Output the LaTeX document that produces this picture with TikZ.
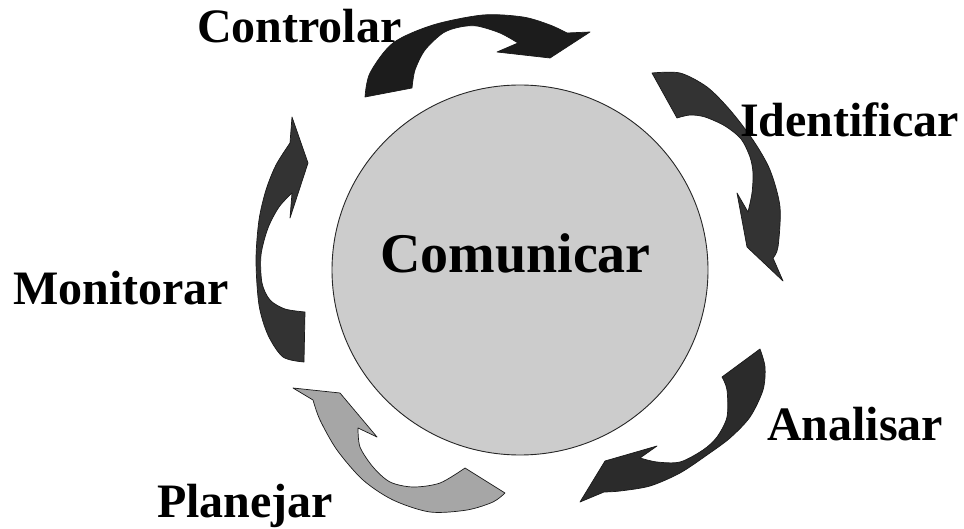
\documentclass[tikz,border=0pt]{standalone}
\usepackage{fontspec}
\setmainfont{Liberation Serif}
\begin{document}
\begin{tikzpicture}[x=1pt,y=-1pt,
  label/.style={inner sep=0pt,anchor=base west,font=\fontsize{48}{50}\selectfont\bfseries},
  bigarrow/.style={fill=#1,draw=black!90,line width=0.7pt,line join=round},
  bigarrow/.default={black!80},
  hub/.style={circle,draw=black!85,line width=0.9pt,fill=black!20}]
\useasboundingbox (0,0) rectangle (964,529);

% central circle
\fill[black!20,draw=black!85,line width=0.9pt] (520,270) ellipse [x radius=188,y radius=185];
\node[inner sep=0pt,anchor=base west,font=\fontsize{56}{60}\selectfont\bfseries] (hub) at (380,273) {Comunicar};

% Controlar arrow (top)
\filldraw[bigarrow=black!89] (365,97)
  -- plot[smooth] coordinates {(365,97) (370,73) (393,43) (433,25) (483,15) (523,17) (550,25) (567,33)}
  -- (590,32) -- (550,58) -- (497,52) -- (518,43)
  -- plot[smooth] coordinates {(518,43) (500,33) (477,26) (460,27) (443,33) (425,50) (415,70) (412,88)}
  -- cycle;

% Identificar arrow (right, top)
\filldraw[bigarrow=black!80] (652,73)
  -- plot[smooth] coordinates {(652,73) (680,73) (707,87) (730,110) (753,140) (770,170) (780,207) (778,247) (773,258)}
  -- (783,281) -- (747,247) -- (737,193) -- (748,212)
  -- plot[smooth] coordinates {(748,212) (752,193) (753,173) (750,157) (741,139) (725,126) (705,117) (690,115) (677,118)}
  -- cycle;

% Analisar arrow (right, bottom)
\filldraw[bigarrow=black!83] (760,349)
  -- plot[smooth] coordinates {(760,349) (765,367) (763,390) (750,417) (730,438) (707,455) (680,473) (650,486) (620,491) (604,492)}
  -- (580,502) -- (605,461) -- (657,446) -- (640,458)
  -- plot[smooth] coordinates {(640,458) (657,462) (680,462) (703,450) (717,437) (727,417) (727,390) (722,377)}
  -- cycle;

% Planejar arrow (bottom left, light)
\filldraw[bigarrow=black!35] (505,493)
  -- plot[smooth] coordinates {(505,493) (493,502) (467,510) (430,512) (393,500) (363,480) (337,450) (320,420) (313,400)}
  -- (293,388) -- (340,393) -- (377,437) -- (358,428)
  -- plot[smooth] coordinates {(358,428) (360,447) (373,467) (390,482) (413,487) (440,483) (465,468)}
  -- cycle;

% Monitorar arrow (left)
\filldraw[bigarrow=black!80] (304,362)
  -- plot[smooth] coordinates {(304,362) (283,357) (268,335) (259,305) (256,260) (259,220) (266,190) (276,165) (290,143)}
  -- (292,117) -- (308,163) -- (290,218) -- (292,193)
  -- plot[smooth] coordinates {(292,193) (279,207) (268,228) (261,255) (262,283) (270,300) (285,309) (305,312)}
  -- cycle;

% labels
\node[label] (controlar) at (197,43) {Controlar};
\node[label] (identificar) at (740,137) {Identificar};
\node[label] (monitorar) at (13,305) {Monitorar};
\node[label] (analisar) at (767,440) {Analisar};
\node[label] (planejar) at (157,517) {Planejar};
\end{tikzpicture}
\end{document}
